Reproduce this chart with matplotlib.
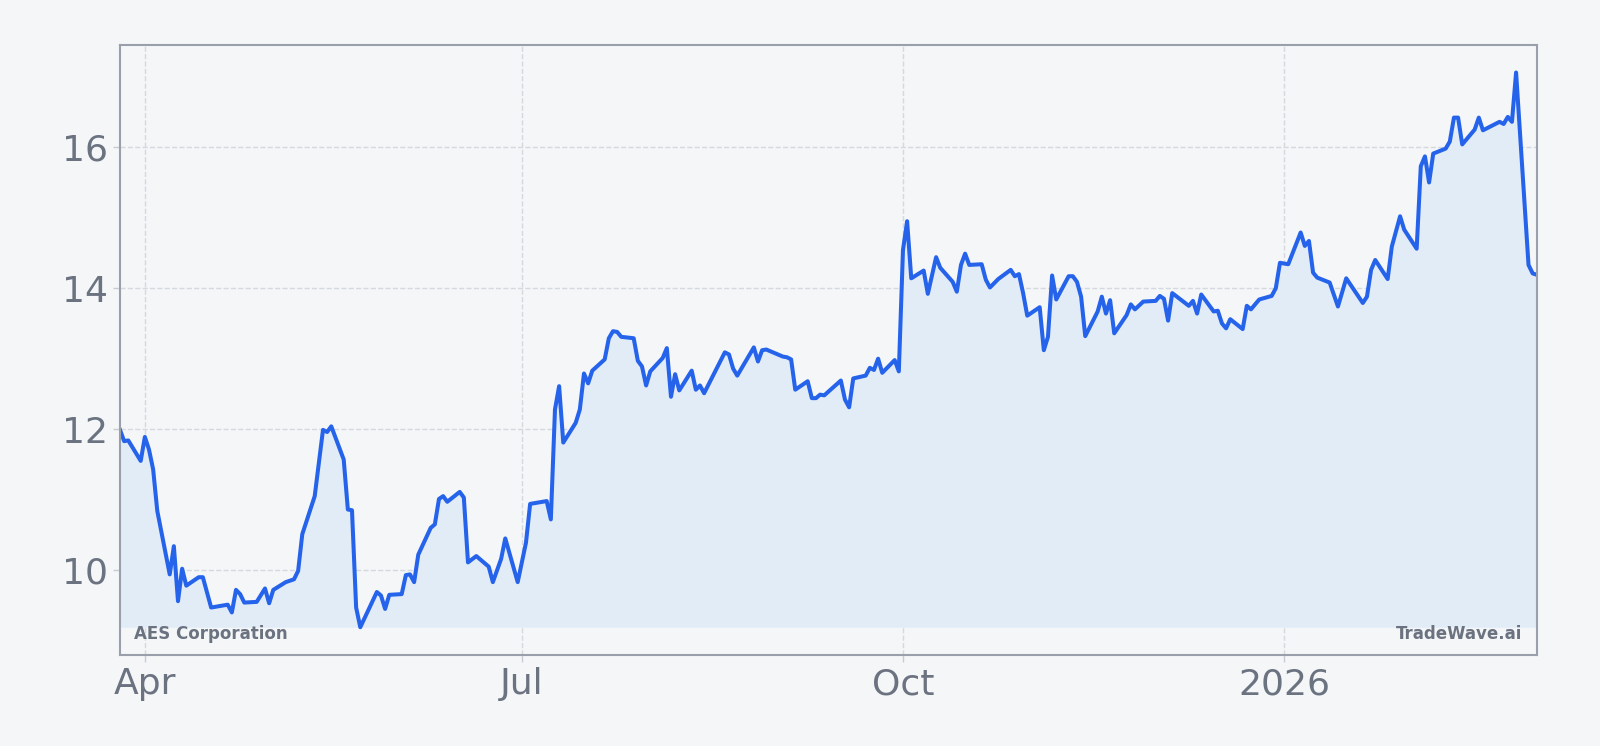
import matplotlib
matplotlib.use("Agg")
import matplotlib.pyplot as plt
import pandas as pd

# AES daily closes
dates = [
    "2025-03-26", "2025-03-27", "2025-03-28", "2025-03-31", "2025-04-01", "2025-04-02", "2025-04-03", "2025-04-04",
    "2025-04-07", "2025-04-08", "2025-04-09", "2025-04-10", "2025-04-11", "2025-04-14", "2025-04-15", "2025-04-17",
    "2025-04-21", "2025-04-22", "2025-04-23", "2025-04-24", "2025-04-25", "2025-04-28", "2025-04-30", "2025-05-01",
    "2025-05-02", "2025-05-05", "2025-05-07", "2025-05-08", "2025-05-09", "2025-05-12", "2025-05-14", "2025-05-15",
    "2025-05-16", "2025-05-19", "2025-05-20", "2025-05-21", "2025-05-22", "2025-05-23", "2025-05-27", "2025-05-28",
    "2025-05-29", "2025-05-30", "2025-06-02", "2025-06-03", "2025-06-04", "2025-06-05", "2025-06-06", "2025-06-09",
    "2025-06-10", "2025-06-11", "2025-06-12", "2025-06-13", "2025-06-16", "2025-06-17", "2025-06-18", "2025-06-20",
    "2025-06-23", "2025-06-24", "2025-06-26", "2025-06-27", "2025-06-30", "2025-07-02", "2025-07-03", "2025-07-07",
    "2025-07-08", "2025-07-09", "2025-07-10", "2025-07-11", "2025-07-14", "2025-07-15", "2025-07-16", "2025-07-17",
    "2025-07-18", "2025-07-21", "2025-07-22", "2025-07-23", "2025-07-24", "2025-07-25", "2025-07-28", "2025-07-29",
    "2025-07-30", "2025-07-31", "2025-08-01", "2025-08-04", "2025-08-05", "2025-08-06", "2025-08-07", "2025-08-08",
    "2025-08-11", "2025-08-12", "2025-08-13", "2025-08-14", "2025-08-19", "2025-08-20", "2025-08-21", "2025-08-22",
    "2025-08-26", "2025-08-27", "2025-08-28", "2025-08-29", "2025-09-02", "2025-09-03", "2025-09-04", "2025-09-05",
    "2025-09-08", "2025-09-09", "2025-09-10", "2025-09-11", "2025-09-12", "2025-09-16", "2025-09-17", "2025-09-18",
    "2025-09-19", "2025-09-22", "2025-09-23", "2025-09-24", "2025-09-25", "2025-09-26", "2025-09-29", "2025-09-30",
    "2025-10-01", "2025-10-02", "2025-10-03", "2025-10-06", "2025-10-07", "2025-10-09", "2025-10-10", "2025-10-13",
    "2025-10-14", "2025-10-15", "2025-10-16", "2025-10-17", "2025-10-20", "2025-10-21", "2025-10-22", "2025-10-24",
    "2025-10-27", "2025-10-28", "2025-10-29", "2025-10-30", "2025-10-31", "2025-11-03", "2025-11-04", "2025-11-05",
    "2025-11-06", "2025-11-07", "2025-11-10", "2025-11-11", "2025-11-12", "2025-11-13", "2025-11-14", "2025-11-17",
    "2025-11-18", "2025-11-19", "2025-11-20", "2025-11-21", "2025-11-24", "2025-11-25", "2025-11-26", "2025-11-28",
    "2025-12-01", "2025-12-02", "2025-12-03", "2025-12-04", "2025-12-05", "2025-12-09", "2025-12-10", "2025-12-11",
    "2025-12-12", "2025-12-15", "2025-12-16", "2025-12-17", "2025-12-18", "2025-12-19", "2025-12-22", "2025-12-23",
    "2025-12-24", "2025-12-26", "2025-12-29", "2025-12-30", "2025-12-31", "2026-01-02", "2026-01-05", "2026-01-06",
    "2026-01-07", "2026-01-08", "2026-01-09", "2026-01-12", "2026-01-14", "2026-01-16", "2026-01-20", "2026-01-21",
    "2026-01-22", "2026-01-23", "2026-01-26", "2026-01-27", "2026-01-29", "2026-01-30", "2026-02-02", "2026-02-03",
    "2026-02-04", "2026-02-05", "2026-02-06", "2026-02-09", "2026-02-10", "2026-02-11", "2026-02-12", "2026-02-13",
    "2026-02-16", "2026-02-17", "2026-02-18", "2026-02-21", "2026-02-22", "2026-02-23", "2026-02-24", "2026-02-25",
    "2026-02-26", "2026-03-01", "2026-03-02", "2026-03-03",
]
prices = [
    11.99, 11.83, 11.84, 11.55, 11.89, 11.71, 11.43, 10.84,
    9.94, 10.34, 9.56, 10.02, 9.78, 9.90, 9.90, 9.47,
    9.51, 9.40, 9.72, 9.66, 9.54, 9.55, 9.74, 9.53,
    9.72, 9.83, 9.87, 9.99, 10.51, 11.05, 11.99, 11.96,
    12.04, 11.57, 10.86, 10.85, 9.47, 9.19, 9.69, 9.64,
    9.45, 9.65, 9.66, 9.93, 9.94, 9.83, 10.22, 10.60,
    10.65, 11.01, 11.05, 10.97, 11.11, 11.03, 10.11, 10.20,
    10.05, 9.83, 10.16, 10.45, 9.83, 10.39, 10.94, 10.98,
    10.72, 12.28, 12.61, 11.81, 12.09, 12.28, 12.79, 12.65,
    12.83, 12.99, 13.29, 13.39, 13.38, 13.31, 13.29, 12.97,
    12.89, 12.62, 12.82, 13.01, 13.15, 12.46, 12.78, 12.55,
    12.83, 12.56, 12.62, 12.51, 13.09, 13.06, 12.86, 12.76,
    13.16, 12.96, 13.12, 13.13, 13.03, 13.02, 12.99, 12.56,
    12.68, 12.44, 12.44, 12.49, 12.48, 12.69, 12.42, 12.31,
    12.72, 12.76, 12.87, 12.84, 13.00, 12.80, 12.98, 12.82,
    14.54, 14.95, 14.14, 14.25, 13.92, 14.44, 14.29, 14.09,
    13.95, 14.33, 14.49, 14.33, 14.34, 14.12, 14.01, 14.13,
    14.26, 14.17, 14.20, 13.93, 13.61, 13.73, 13.12, 13.31,
    14.18, 13.84, 14.17, 14.17, 14.09, 13.88, 13.32, 13.67,
    13.88, 13.64, 13.83, 13.36, 13.62, 13.77, 13.70, 13.81,
    13.82, 13.89, 13.85, 13.54, 13.93, 13.75, 13.82, 13.64,
    13.91, 13.67, 13.68, 13.50, 13.43, 13.56, 13.42, 13.75,
    13.70, 13.84, 13.89, 14.00, 14.36, 14.34, 14.79, 14.60,
    14.67, 14.22, 14.15, 14.08, 13.74, 14.14, 13.79, 13.88,
    14.26, 14.40, 14.13, 14.59, 15.02, 14.83, 14.56, 15.73,
    15.87, 15.50, 15.91, 15.98, 16.08, 16.42, 16.42, 16.04,
    16.25, 16.42, 16.24, 16.33, 16.36, 16.33, 16.43, 16.36,
    17.06, 14.33, 14.21, 14.19,
]
ticker = "AES Corporation"
brand = "TradeWave.ai"
x_ticks = ["2025-04-01", "2025-07-01", "2025-10-01", "2026-01-01"]
x_labels = ["Apr", "Jul", "Oct", "2026"]
y_ticks = [10, 12, 14, 16]

x = pd.to_datetime(dates)
bg = "#f4f6f8"
grey = "#6b7280"
blue = "#2563eb"

fig = plt.figure(figsize=(16, 7.46), dpi=100, facecolor=bg)
ax = fig.add_axes([0.075, 0.122, 0.8855, 0.818], facecolor=bg)

# shaded area sits on the lowest close
low = min(prices)
ax.fill_between(x, prices, low, color="#e2ecf7", linewidth=0)
ax.plot(x, prices, color=blue, linewidth=2.9, solid_joinstyle="round")

span = max(prices) - low
ax.set_ylim(low - 0.05 * span, max(prices) + 0.05 * span)
ax.set_xlim(x[0], x[-1])

ax.set_xticks(pd.to_datetime(x_ticks))
ax.set_xticklabels(x_labels)
ax.set_yticks(y_ticks)
ax.set_yticklabels([str(v) for v in y_ticks])

ax.tick_params(axis="both", labelsize=26, colors=grey, length=5, width=1, pad=4)
ax.tick_params(axis="both", color="#c7ccd4")
ax.grid(True, linestyle="--", color="#d5d9df", linewidth=1)
ax.set_axisbelow(True)
for s in ax.spines.values():
    s.set_color("#9aa0ab")
    s.set_linewidth(1.5)

ax.text(0.01, 0.034, ticker, transform=ax.transAxes, fontsize=12, fontweight="bold",
        color=grey, ha="left", va="center")
ax.text(0.99, 0.034, brand, transform=ax.transAxes, fontsize=12, fontweight="bold",
        color=grey, ha="right", va="center")

fig.savefig("out.png", dpi=100, facecolor=bg)
